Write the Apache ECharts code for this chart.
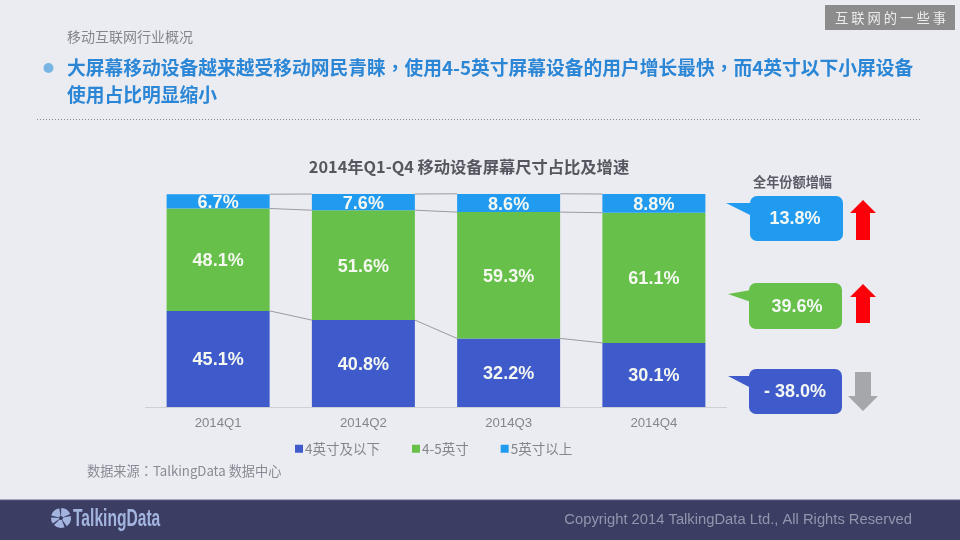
<!DOCTYPE html>
<html>
<head>
    <meta charset="utf-8"/>
    <title>移动设备屏幕尺寸占比及增速</title>
    <script src="https://cdn.jsdelivr.net/npm/echarts@6/dist/echarts.min.js"></script>
    <style>
        html, body { margin: 0; padding: 0; background: #ebecf1; }
        #main { width: 960px; height: 540px; }
    </style>
</head>
<body>
<div id="main"></div>
<script type="text/javascript">
    /* 数据 */
    var quarters = ['2014Q1', '2014Q2', '2014Q3', '2014Q4'];
    var small = [45.1, 40.8, 32.2, 30.1];
    var middle = [48.1, 51.6, 59.3, 61.1];
    var large = [6.7, 7.6, 8.6, 8.8];
    var seriesNames = ['4英寸及以下', '4-5英寸', '5英寸以上'];
    var growthLabels = ['13.8%', '39.6%', '- 38.0%'];

    var CJK = '"Noto Sans CJK SC", "Liberation Sans", sans-serif';
    var CJK_TC = '"Noto Sans CJK TC", "Liberation Sans", sans-serif';
    var LATIN = '"Liberation Sans", "Noto Sans CJK SC", sans-serif';
    var BLUE = '#3f5bcb', GREEN = '#66c04a', SKY = '#219bf0';

    var chart = echarts.init(document.getElementById('main'));

    /* 柱子之间的连接线 */
    function connector(values) {
        return {
            type: 'custom',
            silent: true,
            z: 1,
            data: values,
            renderItem: function (params, api) {
                var i = params.dataIndex;
                if (i >= values.length - 1) return null;
                var half = api.size([1, 0])[0] * 0.355;
                var a = api.coord([i, values[i]]);
                var b = api.coord([i + 1, values[i + 1]]);
                return {
                    type: 'line',
                    shape: {x1: a[0] + half, y1: a[1], x2: b[0] - half, y2: b[1]},
                    style: {stroke: '#9a9aa0', lineWidth: 1}
                };
            }
        };
    }

    function barSeries(name, values, color) {
        return {
            name: name,
            type: 'bar',
            stack: 'share',
            barWidth: 103,
            data: values,
            itemStyle: {color: color},
            z: 2,
            label: {
                show: true,
                position: 'inside',
                offset: [0, 1.5],
                formatter: '{c}%',
                color: '#f4f8f0',
                fontSize: 18,
                fontWeight: 'bold',
                fontFamily: LATIN
            }
        };
    }

    var lineLow = small;
    var lineMid = small.map(function (v, i) { return v + middle[i]; });
    var lineTop = lineMid.map(function (v, i) { return v + large[i]; });

    function text(x, y, str, size, color, weight, align, family) {
        return {
            type: 'text', x: x, y: y, z: 10,
            style: {
                text: str, fontSize: size, fill: color,
                fontWeight: weight || 'normal',
                fontFamily: family || CJK,
                align: align || 'left', verticalAlign: 'middle'
            }
        };
    }

    function callout(y, h, x, tail, color, label, labelX) {
        return [
            {type: 'polygon', z: 9, shape: {points: tail}, style: {fill: color}},
            {type: 'rect', z: 9, shape: {x: x, y: y, width: 93, height: h, r: 7}, style: {fill: color}},
            text(labelX, y + h / 2 + 1, label, 18, '#f4f8f4', 'bold', 'center', LATIN)
        ];
    }

    function upArrow(cx, top, bottom) {
        return {
            type: 'polygon', z: 9,
            shape: {points: [[cx, top], [cx + 13, top + 13], [cx + 7, top + 13], [cx + 7, bottom],
                [cx - 7, bottom], [cx - 7, top + 13], [cx - 13, top + 13]]},
            style: {fill: '#fb0008'}
        };
    }

    var logoText = text(73, 519, 'TalkingData', 24, '#a3b4de', 'bold', 'left', LATIN);
    logoText.scaleX = 0.65;

    var graphics = [
        /* 页脚 */
        {type: 'rect', z: 0, shape: {x: 0, y: 500, width: 960, height: 40}, style: {fill: '#3b3d63'}},
        {type: 'line', z: 0, shape: {x1: 0, y1: 500, x2: 960, y2: 500}, style: {stroke: '#5c5f85', lineWidth: 1}},
        {type: 'sector', z: 5, shape: {cx: 61, cy: 518, r: 10, r0: 2, startAngle: -2.9, endAngle: -1.75}, style: {fill: '#a3b4de'}},
        {type: 'sector', z: 5, shape: {cx: 61, cy: 518, r: 10, r0: 2, startAngle: -1.55, endAngle: -0.4}, style: {fill: '#a3b4de'}},
        {type: 'sector', z: 5, shape: {cx: 61, cy: 518, r: 10, r0: 2, startAngle: -0.2, endAngle: 0.95}, style: {fill: '#a3b4de'}},
        {type: 'sector', z: 5, shape: {cx: 61, cy: 518, r: 10, r0: 2, startAngle: 1.2, endAngle: 2.35}, style: {fill: '#a3b4de'}},
        {type: 'sector', z: 5, shape: {cx: 61, cy: 518, r: 10, r0: 2, startAngle: 2.55, endAngle: 3.2}, style: {fill: '#a3b4de'}},
        logoText,
        text(912, 519.5, 'Copyright 2014 TalkingData Ltd., All Rights Reserved', 14.75, '#9296ad', 'normal', 'right', LATIN),

        /* 页眉 */
        {type: 'rect', z: 1, shape: {x: 825, y: 5, width: 130, height: 25}, style: {fill: '#8c8c8c'}},
        text(835, 18, '互 联 网 的 一 些 事', 13.3, '#ececec', 'normal', 'left'),
        text(67, 37, '移动互联网行业概况', 14, '#85858d'),
        {type: 'circle', z: 5, shape: {cx: 48.5, cy: 68, r: 5}, style: {fill: '#78b5e2'}},
        text(67, 68, '大屏幕移动设备越来越受移动网民青睐，使用4-5英寸屏幕设备的用户增长最快，而4英寸以下小屏设备', 18.75, '#2b86d6', 'bold', 'left', CJK_TC),
        text(67, 95, '使用占比明显缩小', 18.75, '#2b86d6', 'bold'),
        {type: 'line', z: 1, shape: {x1: 37, y1: 119.5, x2: 922, y2: 119.5}, style: {stroke: '#85858d', lineWidth: 1, lineDash: [1, 2]}},

        /* 图表文字 */
        text(469, 167, '2014年Q1-Q4 移动设备屏幕尺寸占比及增速', 16.3, '#55565f', 'bold', 'center'),
        text(792.5, 182, '全年份额增幅', 13.2, '#5a5b66', 'bold', 'center'),
        text(87, 471, '数据来源：TalkingData 数据中心', 13.2, '#8a8a96', 'normal', 'left', CJK_TC),

        /* 箭头 */
        upArrow(863, 200, 240),
        upArrow(863, 284, 323),
        {
            type: 'polygon', z: 9,
            shape: {points: [[855, 372], [871, 372], [871, 396], [878, 396], [863, 411], [848, 396], [855, 396]]},
            style: {fill: '#a6a7ab'}
        }
    ]
        .concat(callout(196, 45, 750, [[726, 203], [752, 203], [752, 216]], SKY, growthLabels[0], 795))
        .concat(callout(283, 46, 749, [[728, 294], [751, 290], [751, 302]], GREEN, growthLabels[1], 797))
        .concat(callout(369, 45, 749, [[728, 376], [751, 376], [751, 388]], BLUE, growthLabels[2], 795));

    var option = {
        backgroundColor: '#ebecf1',
        animation: false,
        grid: {left: 145.5, top: 194, width: 581, height: 213},
        legend: {
            left: 290,
            top: 437,
            itemWidth: 8,
            itemHeight: 8,
            itemGap: 32,
            icon: 'rect',
            data: seriesNames,
            textStyle: {color: '#85858f', fontSize: 13.5, fontFamily: CJK, padding: [0, 0, 0, -3]}
        },
        xAxis: {
            type: 'category',
            data: quarters,
            axisTick: {show: false},
            axisLine: {lineStyle: {color: '#cfd0d4'}},
            axisLabel: {color: '#85858f', fontSize: 13.2, fontFamily: LATIN, margin: 10}
        },
        yAxis: {type: 'value', min: 0, max: 100, show: false},
        graphic: {elements: graphics},
        series: [
            barSeries(seriesNames[0], small, BLUE),
            barSeries(seriesNames[1], middle, GREEN),
            barSeries(seriesNames[2], large, SKY),
            connector(lineLow),
            connector(lineMid),
            connector(lineTop)
        ]
    };

    chart.setOption(option);
    window.onresize = chart.resize;
</script>
</body>
</html>
